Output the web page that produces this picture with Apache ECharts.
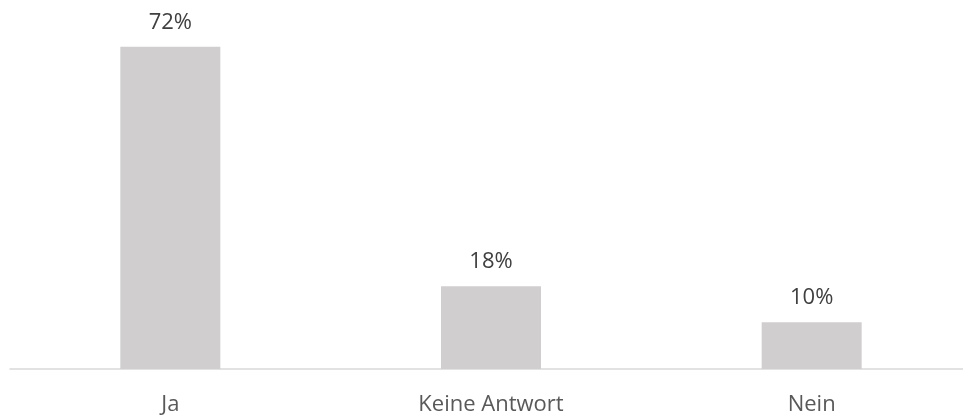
<!DOCTYPE html>
<html>
<head>
<meta charset="utf-8">
<script src="https://cdn.jsdelivr.net/npm/echarts@6/dist/echarts.min.js"></script>
<style>
html,body{margin:0;padding:0;background:#fff;overflow:hidden;}
#chart{width:972px;height:417px;}
</style>
</head>
<body>
<div id="chart"></div>
<script>
const categories = ['Ja', 'Keine Antwort', 'Nein'];
const values = [71.6, 18.4, 10.4];

const chart = echarts.init(document.getElementById('chart'), null, {renderer: 'canvas'});
chart.setOption({
  animation: false,
  grid: {left: 10, right: 0, top: 9, bottom: 48, containLabel: false},
  xAxis: {
    type: 'category',
    data: categories,
    axisLine: {show: true, lineStyle: {color: '#d9d9d9', width: 1.5}},
    axisTick: {show: false},
    axisLabel: {color: '#595959', fontSize: 22, fontFamily: 'Open Sans', margin: 25}
  },
  yAxis: {
    type: 'value', min: 0, max: 80, show: false,
    splitLine: {show: false}
  },
  series: [{
    type: 'bar',
    data: values,
    barWidth: 100,
    itemStyle: {color: '#d0cecf'},
    label: {
      show: true, position: 'top', distance: 13,
      color: '#404040', fontSize: 22, fontFamily: 'Open Sans',
      formatter: p => Math.round(p.value) + '%'
    }
  }]
});
</script>
</body>
</html>
